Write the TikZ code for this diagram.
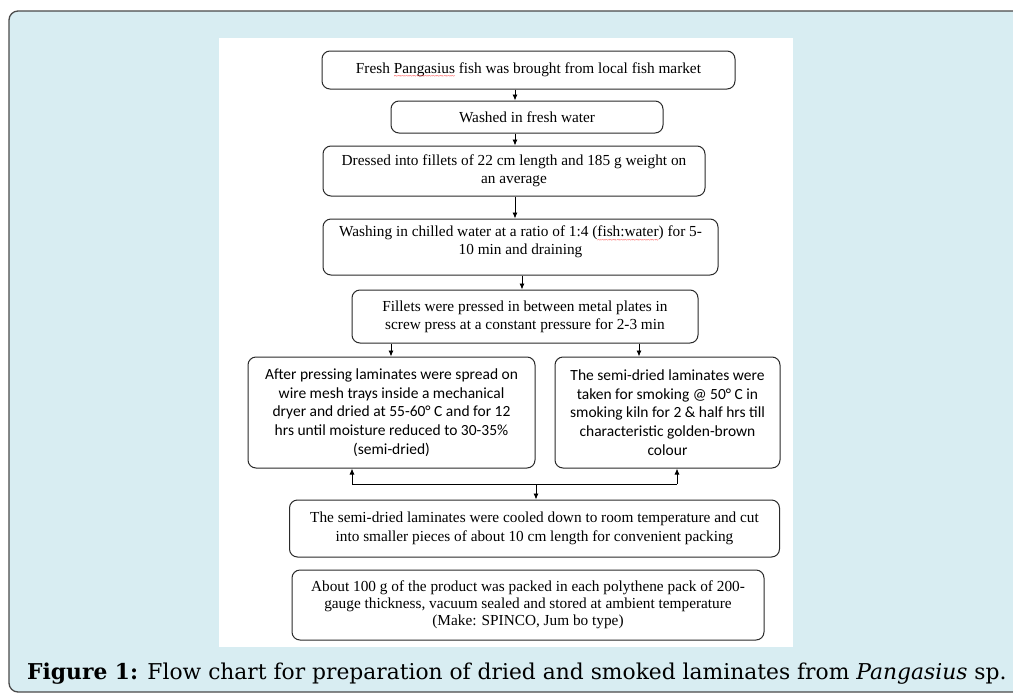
\documentclass[tikz,border=0pt]{standalone}
\usepackage{fontspec}
\setmainfont{Liberation Serif}
\newfontfamily\calib{Carlito}
\newfontfamily\capfont{DejaVu Serif}
\usetikzlibrary{arrows.meta}
\definecolor{panelbg}{HTML}{D8EDF2}
\definecolor{panelline}{HTML}{4A4A4A}
\definecolor{boxline}{HTML}{2A2A2A}
\newsavebox\sqbox
\newcommand\squig[1]{\sbox\sqbox{#1}\leavevmode\rlap{\usebox\sqbox}\raisebox{-5.2pt}[0pt][0pt]{\textcolor{red}{\hbox to \wd\sqbox{\fontsize{7}{7}\selectfont\xleaders\hbox{\char"7E}\hfill}}}}
\tikzset{
  box/.style={draw=boxline, line width=1pt, rounded corners=8pt, fill=white,
    align=center, inner sep=0pt, font=\fontsize{15.3}{18}\selectfont},
  cbox/.style={box, font=\calib\fontsize{15.5}{18.7}\selectfont},
  arr/.style={draw=black, line width=0.9pt, -{Latex[length=6pt,width=5pt]}},
  link/.style={draw=black, line width=0.9pt}
}
\begin{document}
\begin{tikzpicture}[x=1pt,y=-1pt]
\useasboundingbox (0,0) rectangle (1013,694);
\begin{scope}
\clip (0,0) rectangle (1013,694);
\draw[panelline, line width=1.3pt, fill=panelbg, rounded corners=9pt] (9,11) rectangle (1060,692);
\end{scope}
\fill[white] (219,38) rectangle (793,647);

\node[box, minimum width=413pt, minimum height=38pt] (b1) at (528.5,70)
  {Fresh \squig{Pangasius} fish was brought from local fish market};
\node[box, minimum width=272pt, minimum height=32pt] (b2) at (527,117)
  {Washed in fresh water};
\node[box, minimum width=382pt, minimum height=50pt] (b3) at (514,171)
  {Dressed into fillets of 22 cm length and 185 g weight on\\an average};
\node[box, minimum width=395pt, minimum height=56pt] (b4) at (520.5,247)
  {Washing in chilled water at a ratio of 1:4 (\squig{fish:water}) for 5-\\10 min and draining\\[-5pt]\mbox{}};
\node[box, minimum width=346pt, minimum height=53pt] (b5) at (525,316.5)
  {Fillets were pressed in between metal plates in\\screw press at a constant pressure for 2-3 min};
\node[cbox, minimum width=287pt, minimum height=111pt] (b6) at (391.5,412.5)
  {After pressing laminates were spread on\\wire mesh trays inside a mechanical\\dryer and dried at 55-60° C and for 12\\hrs until moisture reduced to 30-35\%\\(semi-dried)};
\node[cbox, minimum width=225pt, minimum height=111pt] (b7) at (667.5,412.5)
  {The semi-dried laminates were\\taken for smoking @ 50° C in\\smoking kiln for 2 \& half hrs till\\characteristic golden-brown\\colour};
\node[box, minimum width=490pt, minimum height=57pt, font=\fontsize{15.3}{19}\selectfont] (b8) at (534.5,528.5)
  {The semi-dried laminates were cooled down to room temperature and cut\\into smaller pieces of about 10 cm length for convenient packing};
\node[box, minimum width=472pt, minimum height=70pt, font=\fontsize{15.3}{17}\selectfont] (b9) at (528,605)
  {About 100 g of the product was packed in each polythene pack of 200-\\gauge thickness, vacuum sealed and stored at ambient temperature\\(Make: SPINCO, Jum bo type)};

\coordinate (xa) at (515,0);
\coordinate (xb) at (522,0);
\coordinate (xl) at (391,0);
\coordinate (xr) at (639,0);
\coordinate (jL) at (352,484);
\coordinate (jR) at (677,484);
\coordinate (jM) at (536,484);

\draw[arr] (b1.south -| xa) -- (b2.north -| xa);
\draw[arr] (b2.south -| xa) -- (b3.north -| xa);
\draw[arr] (b3.south -| xa) -- (b4.north -| xa);
\draw[arr] (b4.south -| xb) -- (b5.north -| xb);
\draw[arr] (b5.south -| xl) -- (b6.north -| xl);
\draw[arr] (b5.south -| xr) -- (b7.north -| xr);
\draw[link] (jL) -- (jR);
\draw[arr] (jL) -- (jL |- b6.south);
\draw[arr] (jR) -- (jR |- b7.south);
\draw[arr] (jM) -- (jM |- b8.north);

\node[anchor=base west, inner sep=0pt, font=\capfont\fontsize{21.8}{26}\selectfont] (cap) at (27,679)
  {\textbf{Figure 1:} Flow chart for preparation of dried and smoked laminates from \textit{Pangasius} sp.};
\end{tikzpicture}
\end{document}
